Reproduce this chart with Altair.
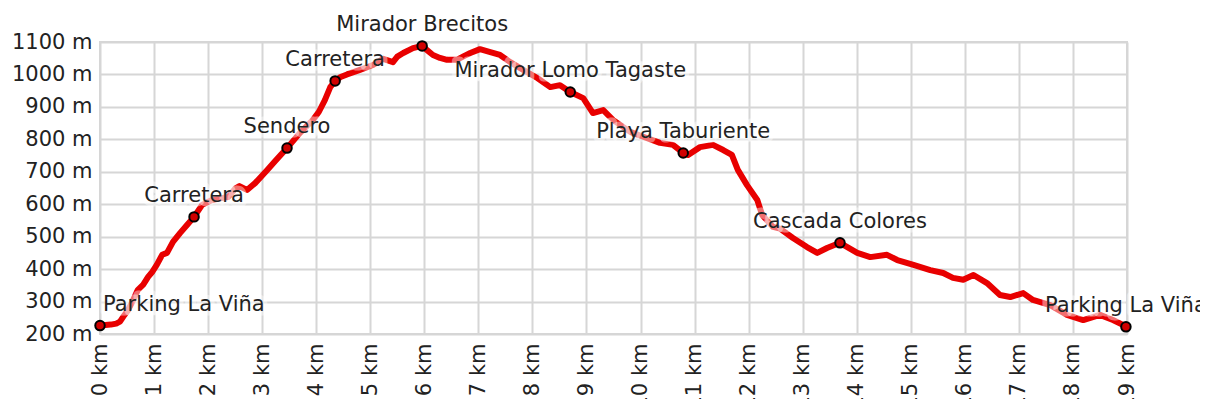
import altair as alt
import pandas as pd

# Elevation profile (distance in km, elevation in m)
km = [0.00, 0.10, 0.20, 0.30, 0.37, 0.45, 0.52, 0.60, 0.70, 0.80, 0.89, 0.97, 1.05, 1.15, 1.24,
      1.35, 1.48, 1.61, 1.74, 1.89, 2.07, 2.22, 2.37, 2.50, 2.58, 2.72, 2.87, 3.09, 3.25, 3.46,
      3.70, 3.94, 4.05, 4.16, 4.26, 4.35, 4.45, 4.57, 4.81, 5.05, 5.24, 5.42, 5.50, 5.61, 5.79,
      5.96, 6.05, 6.16, 6.29, 6.42, 6.60, 6.75, 6.85, 7.03, 7.22, 7.40, 7.59, 7.83, 8.09, 8.33,
      8.51, 8.70, 8.94, 9.12, 9.31, 9.49, 9.81, 10.10, 10.36, 10.60, 10.79, 10.88, 11.10, 11.34,
      11.53, 11.69, 11.80, 11.97, 12.16, 12.25, 12.45, 12.58, 12.82, 13.08, 13.27, 13.45, 13.69,
      14.01, 14.25, 14.56, 14.75, 15.05, 15.36, 15.60, 15.78, 15.97, 16.16, 16.41, 16.65, 16.84,
      17.08, 17.26, 17.58, 17.89, 18.19, 18.50, 18.74, 19.00]
elev = [226, 228, 229, 232, 238, 258, 274, 300, 336, 352, 376, 392, 413, 444, 450,
        484, 511, 536, 561, 598, 613, 618, 622, 648, 656, 644, 665, 705, 735, 773,
        820, 860, 885, 921, 961, 980, 992, 1000, 1014, 1029, 1048, 1038, 1055, 1066, 1081,
        1088, 1075, 1060, 1051, 1045, 1045, 1058, 1066, 1078, 1069, 1060, 1038, 1014, 989, 961,
        967, 946, 927, 881, 890, 860, 823, 805, 789, 783, 758, 752, 776, 783,
        767, 752, 706, 659, 613, 567, 530, 525, 496, 468, 450, 465, 481,
        450, 437, 444, 428, 413, 397, 388, 373, 367, 382, 357, 320, 314,
        326, 305, 289, 259, 243, 259, 243, 222]

# Waypoints
wp_names = ["Parking La Viña", "Carretera", "Sendero", "Carretera", "Mirador Brecitos",
            "Mirador Lomo Tagaste", "Playa Taburiente", "Cascada Colores", "Parking La Viña"]
wp_km = [0.0, 1.74, 3.46, 4.35, 5.96, 8.70, 10.79, 13.69, 18.98]
wp_elev = [226, 561, 773, 980, 1088, 946, 758, 481, 222]

x_ticks = list(range(0, 20))
y_ticks = list(range(200, 1101, 100))

profile = pd.DataFrame({"km": km, "elev": elev})
wps = pd.DataFrame({"name": wp_names, "km": wp_km, "elev": wp_elev})

FONT = "DejaVu Sans"
FS = 21

x_enc = alt.X("km:Q", scale=alt.Scale(domain=[0, 19], nice=False),
              axis=alt.Axis(values=x_ticks, labelExpr="datum.value + ' km'", labelAngle=270,
                            title=None, ticks=False, domain=False, labelPadding=9,
                            grid=True, labelFlush=False, labelOverlap=False))
y_enc = alt.Y("elev:Q", scale=alt.Scale(domain=[200, 1100], nice=False, zero=False),
              axis=alt.Axis(values=y_ticks, labelExpr="datum.value + ' m'", title=None,
                            ticks=False, domain=False, labelPadding=8, grid=True,
                            labelFlush=False, labelOverlap=False))

line = alt.Chart(profile).mark_line(color="#e80000", strokeWidth=6, strokeJoin="round").encode(
    x=x_enc, y=y_enc)

pts = alt.Chart(wps).mark_point(shape="circle", filled=False, fill="#d00000", stroke="black",
                                strokeWidth=2, size=90, opacity=1).encode(
    x=x_enc, y=y_enc)

first = wps[wps["km"] == 0]
rest = wps[wps["km"] != 0]

def labels(df, align, dx):
    halo = alt.Chart(df).mark_text(font=FONT, fontSize=FS, align=align, dx=dx, dy=-15,
                                   baseline="alphabetic", fill="white", fillOpacity=0.45,
                                   stroke="white", strokeWidth=9, strokeOpacity=0.45,
                                   strokeJoin="round").encode(x=x_enc, y=y_enc, text="name:N")
    txt = alt.Chart(df).mark_text(font=FONT, fontSize=FS, align=align, dx=dx, dy=-15,
                                  baseline="alphabetic", color="#222222").encode(
        x=x_enc, y=y_enc, text="name:N")
    return halo + txt

chart = alt.layer(line, labels(rest, "center", 0), labels(first, "left", 3), pts).properties(
    width=1027, height=292,
    autosize=alt.AutoSizeParams(type="none"),
    padding={"left": 92, "top": 34, "right": 73, "bottom": 65},
).configure_axis(
    labelFont=FONT, labelFontSize=FS, labelColor="#222222",
    gridColor="#d6d6d6", gridWidth=2, gridOpacity=1,
).configure_view(
    stroke="#d6d6d6", strokeWidth=2,
)

chart.save("out.html", embed_options={"renderer": "svg", "actions": False})
